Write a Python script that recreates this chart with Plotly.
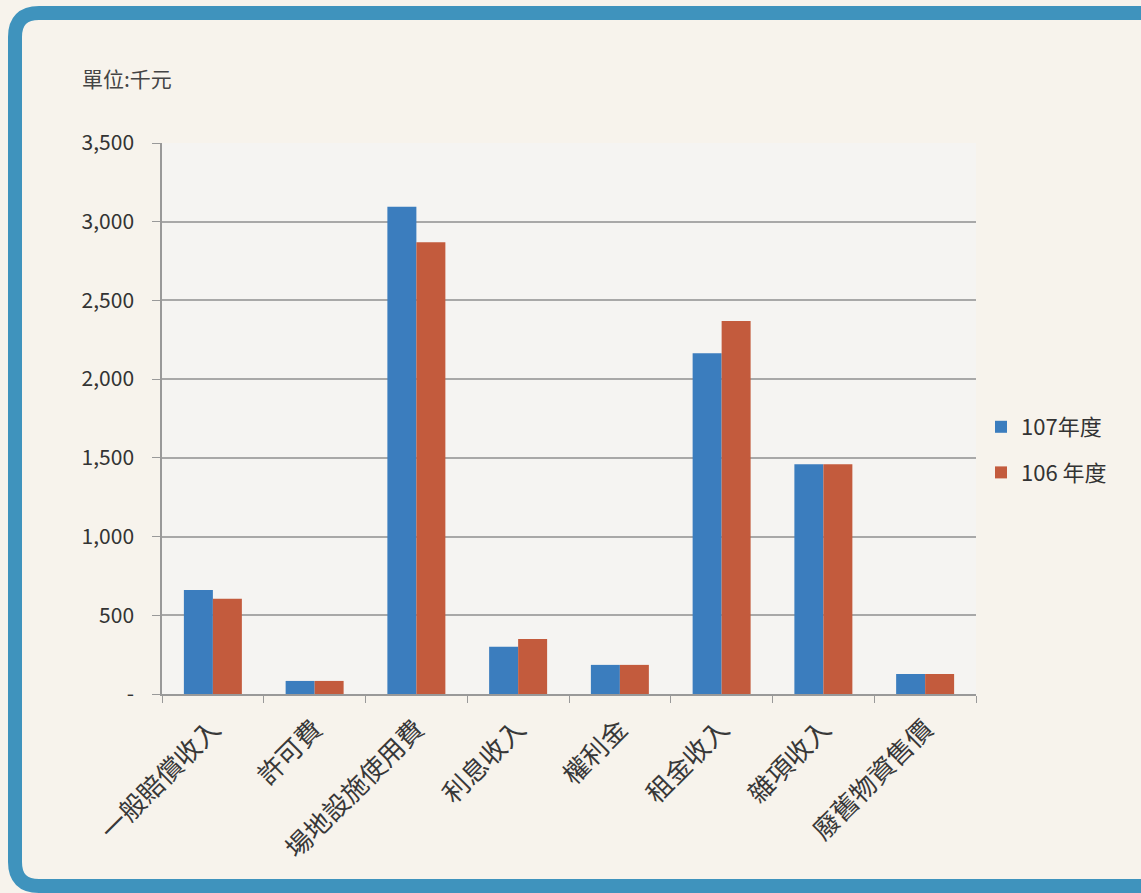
import plotly.graph_objects as go

categories = ["一般賠償收入", "許可費", "場地設施使用費", "利息收入", "權利金", "租金收入", "雜項收入", "廢舊物資售價"]
series_107 = [660, 83, 3095, 300, 185, 2165, 1460, 127]
series_106 = [605, 83, 2870, 350, 185, 2370, 1460, 127]
series_names = ["107年度", "106 年度"]
y_tickvals = [0, 500, 1000, 1500, 2000, 2500, 3000, 3500]
y_ticktext = ["-", "500", "1,000", "1,500", "2,000", "2,500", "3,000", "3,500"]
unit_label = "單位:千元"

W, H = 1141, 893
ML, MR, MT, MB = 162, 165, 143, 199
PW, PH = W - ML - MR, H - MT - MB

def px_x(p):
    return (p - ML) / PW

def px_y(p):
    return (H - MB - p) / PH

font_family = "Noto Sans CJK TC, Noto Sans, sans-serif"
bg = "#f7f3ec"

fig = go.Figure()
fig.add_trace(go.Bar(x=categories, y=series_107, name=series_names[0],
                     marker_color="#3b7dbe", marker_line_width=0, legendgroup="a"))
fig.add_trace(go.Bar(x=categories, y=series_106, name=series_names[1],
                     marker_color="#c35b3d", marker_line_width=0, legendgroup="b"))

# rounded teal frame
x0, y0, x1, y1, r = 15, 13, 1160, 886, 24
path = (f"M {px_x(x0+r)} {px_y(y0)} L {px_x(x1)} {px_y(y0)} "
        f"M {px_x(x1)} {px_y(y1)} L {px_x(x0+r)} {px_y(y1)} "
        f"Q {px_x(x0)} {px_y(y1)} {px_x(x0)} {px_y(y1-r)} "
        f"L {px_x(x0)} {px_y(y0+r)} Q {px_x(x0)} {px_y(y0)} {px_x(x0+r)} {px_y(y0)}")
fig.add_shape(type="path", path=path, xref="paper", yref="paper",
              line=dict(color="#3f93bd", width=14), layer="above")

fig.add_annotation(text=unit_label, xref="paper", yref="paper",
                   x=px_x(80), y=px_y(78), xanchor="left", yanchor="middle",
                   showarrow=False, font=dict(size=21, color="#444444", family=font_family))

fig.update_layout(
    width=W, height=H,
    margin=dict(l=ML, r=MR, t=MT, b=MB, pad=0),
    paper_bgcolor=bg,
    plot_bgcolor="#f5f4f2",
    barmode="group",
    bargap=0.43,
    bargroupgap=0,
    font=dict(family=font_family, color="#333333", size=21),
    showlegend=True,
    legend=dict(x=px_x(981), y=px_y(450), xanchor="left", yanchor="middle",
                bgcolor="rgba(0,0,0,0)", font=dict(size=22, color="#333333"),
                tracegroupgap=14, itemwidth=30),
    xaxis=dict(type="category", tickangle=-45, ticks="outside", tickson="boundaries",
               ticklen=7, tickcolor="#999999", showline=True, linecolor="#999999",
               linewidth=1.5, showgrid=False, ticklabelstandoff=8,
               tickfont=dict(size=26, color="#383838")),
    yaxis=dict(range=[0, 3500], tickvals=y_tickvals, ticktext=y_ticktext,
               ticks="outside", ticklen=8, tickcolor="#999999",
               showline=True, linecolor="#999999", linewidth=1.5,
               showgrid=True, gridcolor="#a8a8a8", gridwidth=1.5,
               zeroline=False, ticklabelstandoff=14,
               tickfont=dict(size=21, color="#333333")),
)

fig.write_html("out.html", config={"displayModeBar": False},
               post_script=f"document.body.style.margin='0';document.body.style.background='{bg}';")
